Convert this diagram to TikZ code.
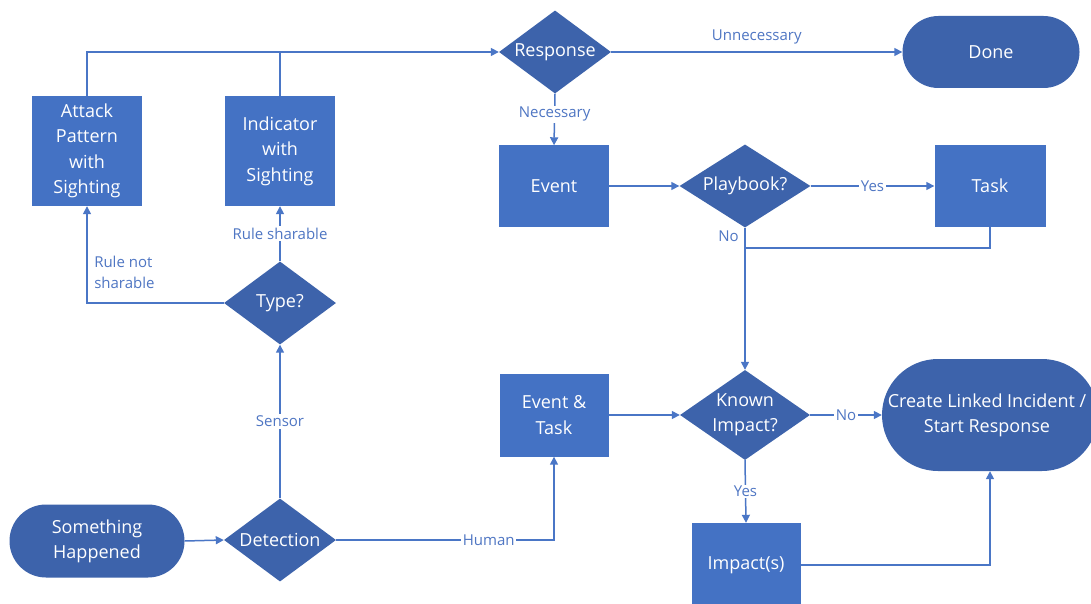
\documentclass[tikz,border=0pt]{standalone}
\usepackage{fontspec}
\setmainfont{Open Sans}
\usetikzlibrary{shapes.geometric,shapes.misc,arrows.meta}
\definecolor{boxc}{HTML}{4472C4}
\definecolor{darkc}{HTML}{3D63AB}
\definecolor{linec}{HTML}{4A76C6}
\definecolor{labc}{HTML}{4F76C3}
\begin{document}
\begin{tikzpicture}[x=1pt,y=-1pt,
 proc/.style={rectangle,fill=boxc,text=white,align=center,font=\fontsize{18}{25.5}\selectfont,inner sep=0pt},
 dec/.style={diamond,fill=darkc,inner sep=0pt},
 term/.style={rounded rectangle,fill=darkc,inner sep=0pt},
 inlab/.style={text=white,align=center,font=\fontsize{18}{25}\selectfont,inner sep=0pt},
 arr/.style={draw=linec,line width=1.5pt,-{Triangle[length=8pt,width=8pt]}},
 ln/.style={draw=linec,line width=1.5pt},
 lab/.style={text=labc,font=\fontsize{15}{21}\selectfont,fill=white,inner sep=1.5pt}]
\useasboundingbox (0,0) rectangle (1091,604);
\clip (0,0) rectangle (1091,604);
\fill[white] (0,0) rectangle (1091,604);

% nodes
\node[proc,minimum width=110pt,minimum height=110pt] (attack) at (87,151) {Attack\\Pattern\\with\\Sighting};
\node[proc,minimum width=110pt,minimum height=110pt] (indicator) at (280,151) {Indicator\\with\\Sighting};
\node[dec,minimum width=112pt,minimum height=83pt,label={[inlab]center:Type?}] (type) at (280,303) {};
\node[dec,minimum width=112pt,minimum height=83pt,label={[inlab]center:Detection}] (detect) at (280,540) {};
\node[term,minimum width=175pt,minimum height=73pt,label={[inlab]center:Something\\Happened}] (something) at (97,541) {};
\node[dec,minimum width=112pt,minimum height=83pt,label={[inlab]center:Response}] (response) at (555,52) {};
\node[term,minimum width=177pt,minimum height=72pt,label={[inlab]center:Done}] (done) at (991,52) {};
\node[proc,minimum width=110pt,minimum height=81pt] (event) at (554,186) {Event};
\node[dec,minimum width=131pt,minimum height=83pt,label={[inlab]center:Playbook?}] (playbook) at (745,186) {};
\node[proc,minimum width=111pt,minimum height=82pt] (task) at (990,186) {Task};
\node[proc,minimum width=109pt,minimum height=83pt] (eventtask) at (554,415) {Event \&\\Task};
\node[dec,minimum width=130pt,minimum height=90pt,label={[inlab]center:Known\\Impact?}] (known) at (745,415) {};
\node[term,minimum width=216pt,minimum height=112pt,label={[inlab,xshift=-3pt]center:Create Linked Incident /\\Start Response}] (create) at (990,415) {};
\node[proc,minimum width=109pt,minimum height=84pt] (impacts) at (746,565) {Impact(s)};

\coordinate (j1) at (745,248);

% connectors
\draw[arr] (attack.north) |- (response.west);
\draw[ln] (indicator.north) -- (indicator.north |- response.west);
\draw[arr] (response.east) -- node[lab,fill=none,above=6pt]{Unnecessary} (done.west);
\draw[arr] (response.south) -- node[lab,pos=0.4]{Necessary} (event.north);
\draw[arr] (event.east) -- (playbook.west);
\draw[arr] (playbook.east) -- node[lab]{Yes} (task.west);
\draw[arr] (playbook.south) -- node[lab,fill=none,pos=0.06,left=4pt]{No} (known.north);
\draw[ln] (task.south) |- (j1);
\draw[arr] (eventtask.east) -- (known.west);
\draw[arr] (known.east) -- node[lab]{No} (create.west);
\draw[arr] (known.south) -- node[lab]{Yes} (impacts.north);
\draw[arr] (impacts.east) -| (create.south);
\draw[arr] (something.east) -- (detect.west);
\draw[arr] (detect.north) -- node[lab]{Sensor} (type.south);
\draw[arr] (detect.east) -| node[lab,pos=0.35]{Human} (eventtask.south);
\draw[arr] (type.north) -- node[lab]{Rule sharable} (indicator.south);
\draw[arr] (type.west) -| node[lab,fill=none,pos=0.66,right=5pt,align=left]{Rule not\\sharable} (attack.south);
\end{tikzpicture}
\end{document}
